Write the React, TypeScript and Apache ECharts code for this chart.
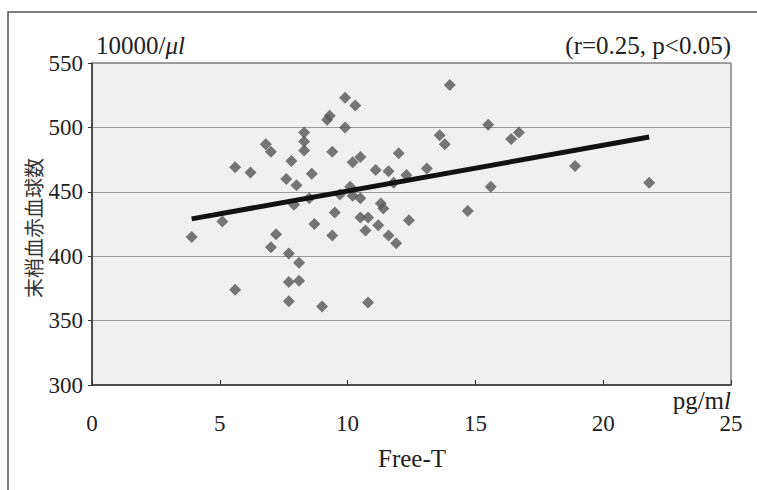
import React, { useEffect, useRef } from "react";
import * as echarts from "echarts";

// Free-T (pg/ml)
const freeT = [
  3.9, 5.1, 5.6, 5.6, 6.2, 6.8, 7.0, 7.0, 7.2, 7.6,
  7.8, 7.7, 7.7, 7.7, 7.9, 8.0, 8.1, 8.1, 8.3, 8.3,
  8.3, 8.5, 8.6, 8.7, 9.0, 9.2, 9.3, 9.4, 9.4, 9.5,
  9.9, 9.9, 10.3, 9.7, 10.1, 10.2, 10.5, 10.2, 10.5, 10.5,
  10.8, 10.7, 10.8, 11.1, 11.2, 11.3, 11.4, 11.6, 11.6, 11.9,
  11.8, 12.0, 12.3, 12.4, 13.1, 13.6, 13.8, 14.0, 14.7, 15.5,
  15.6, 16.4, 16.7, 18.9, 21.8,
];
// 末梢血赤血球数 (10000/μl)
const rbc = [
  415, 427, 469, 374, 465, 487, 481, 407, 417, 460,
  474, 402, 380, 365, 440, 455, 381, 395, 496, 489,
  482, 445, 464, 425, 361, 506, 509, 481, 416, 434,
  500, 523, 517, 448, 454, 447, 445, 473, 477, 430,
  430, 420, 364, 467, 424, 441, 437, 466, 416, 410,
  457, 480, 463, 428, 468, 494, 487, 533, 435, 502,
  454, 491, 496, 470, 457,
];
// regression line end points
const fitX = [3.9, 21.8];
const fitY = [429, 492.5];

const xTicks = [0, 5, 10, 15, 20, 25];
const yTicks = [300, 350, 400, 450, 500, 550];

const SERIF = "Liberation Serif";
const CJK = "Noto Sans CJK JP";

export default function App() {
  const ref = useRef<HTMLDivElement>(null);
  useEffect(() => {
    document.body.style.margin = "0";
    if (!ref.current) return;
    const chart = echarts.init(ref.current, undefined, { renderer: "svg" });
    const points = freeT.map((x, i) => [x, rbc[i]]);
    const fit = fitX.map((x, i) => [x, fitY[i]]);
    chart.setOption({
      animation: false,
      backgroundColor: "#ffffff",
      grid: {
        left: 92,
        right: 26,
        top: 63,
        bottom: 105,
        show: true,
        backgroundColor: "#f0f0f0",
        borderColor: "#444",
        borderWidth: 1,
      },
      xAxis: {
        type: "value",
        min: xTicks[0],
        max: xTicks[xTicks.length - 1],
        interval: 5,
        axisLine: { show: true, lineStyle: { color: "#333", width: 1.5 } },
        axisTick: { show: true, inside: true, length: 5, lineStyle: { color: "#333" } },
        splitLine: { show: false },
        axisLabel: {
          margin: 27,
          color: "#222",
          fontSize: 23,
          fontFamily: SERIF,
        },
      },
      yAxis: {
        type: "value",
        min: yTicks[0],
        max: yTicks[yTicks.length - 1],
        interval: 50,
        axisLine: { show: true, lineStyle: { color: "#333", width: 1.5 } },
        axisTick: { show: true, inside: false, length: 4, lineStyle: { color: "#333" } },
        splitLine: { show: true, lineStyle: { color: "#9a9a9a", width: 1 } },
        axisLabel: {
          margin: 9,
          color: "#222",
          fontSize: 23,
          fontFamily: SERIF,
        },
      },
      series: [
        {
          type: "scatter",
          data: points,
          symbol: "diamond",
          symbolSize: 12,
          itemStyle: { color: "#565656" },
          z: 3,
        },
        {
          type: "line",
          data: fit,
          showSymbol: false,
          symbol: "none",
          lineStyle: { color: "#111", width: 5 },
          z: 4,
        },
      ],
      graphic: [
        {
          type: "polyline",
          shape: { points: [[8, 490], [8, 12], [757, 12]] },
          style: { stroke: "#555", lineWidth: 1.5, fill: null },
          silent: true,
        },
        {
          type: "text",
          x: 96,
          y: 45,
          style: {
            text: "{n|10000/}{i|μl}",
            verticalAlign: "middle",
            rich: {
              n: { fontFamily: SERIF, fontSize: 25, fill: "#222" },
              i: { fontFamily: SERIF, fontSize: 25, fontStyle: "italic", fill: "#222" },
            },
          },
        },
        {
          type: "text",
          x: 731,
          y: 45,
          style: {
            text: "(r=0.25, p<0.05)",
            align: "right",
            verticalAlign: "middle",
            fontFamily: SERIF,
            fontSize: 25,
            fill: "#222",
          },
        },
        {
          type: "text",
          x: 731,
          y: 400,
          style: {
            text: "{n|pg/m}{i|l}",
            align: "right",
            verticalAlign: "middle",
            rich: {
              n: { fontFamily: SERIF, fontSize: 25, fill: "#222" },
              i: { fontFamily: SERIF, fontSize: 25, fontStyle: "italic", fill: "#222" },
            },
          },
        },
        {
          type: "text",
          x: 412,
          y: 458,
          style: {
            text: "Free-T",
            align: "center",
            verticalAlign: "middle",
            fontFamily: SERIF,
            fontSize: 25,
            fill: "#222",
          },
        },
        {
          type: "text",
          x: 33,
          y: 228,
          rotation: Math.PI / 2,
          style: {
            text: "末梢血赤血球数",
            align: "center",
            verticalAlign: "middle",
            fontFamily: CJK,
            fontSize: 20,
            fill: "#333",
          },
        },
      ],
    });
    return () => chart.dispose();
  }, []);
  return <div ref={ref} style={{ width: 757, height: 490 }} />;
}
